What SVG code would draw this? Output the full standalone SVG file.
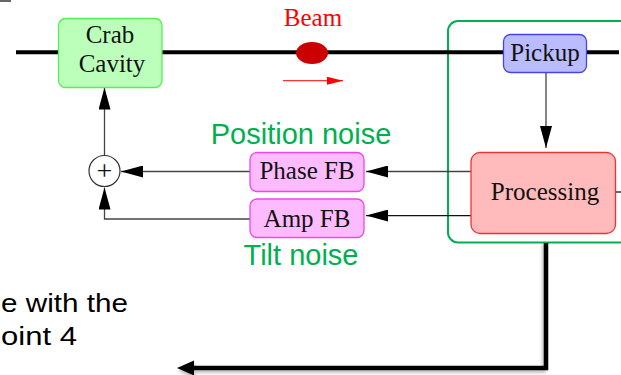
<svg xmlns="http://www.w3.org/2000/svg" width="621" height="375" viewBox="0 0 621 375">
  <style>
    .box { stroke-width: 1.3; }
    .serif { font-family: "Liberation Serif", "Times New Roman", serif; font-size: 25px; fill: #111; text-anchor: middle; }
    .noise { font-family: "Liberation Sans", Arial, sans-serif; font-size: 29px; fill: #00b050; text-anchor: middle; }
    .note { font-family: "Liberation Sans", Arial, sans-serif; font-size: 26.5px; fill: #000; }
    .wire { fill: none; stroke: #444; stroke-width: 1.3; }
  </style>
  <defs>
    <marker id="head" viewBox="0 0 22 12" refX="22" refY="6" markerWidth="22" markerHeight="12" markerUnits="userSpaceOnUse" orient="auto">
      <path d="M0,0 L22,6 L0,12 z" fill="#000"/>
    </marker>
    <marker id="redhead" viewBox="0 0 16 8" refX="16" refY="4" markerWidth="16" markerHeight="8" markerUnits="userSpaceOnUse" orient="auto">
      <path d="M0,0 L16,4 L0,8 z" fill="#ff0000"/>
    </marker>
    <filter id="shadow" x="-10%" y="-10%" width="120%" height="130%">
      <feGaussianBlur stdDeviation="1.5"/>
    </filter>
  </defs>

  <!-- corner mark -->
  <rect x="0" y="0" width="11" height="2" fill="#666"/>

  <!-- feedback loop enclosure -->
  <rect id="loop-frame" x="448" y="21" width="200" height="221.5" rx="10" fill="none" stroke="#00b050" stroke-width="2"/>

  <!-- beam pipe -->
  <line x1="16" y1="52.3" x2="619" y2="52.3" stroke="#000" stroke-width="4"/>

  <!-- bunch and direction of travel -->
  <g id="beam">
    <ellipse cx="312" cy="53" rx="16" ry="11" fill="#cc0000"/>
    <line x1="283" y1="80.7" x2="343" y2="80.7" stroke="#ff3333" stroke-width="1.2" marker-end="url(#redhead)"/>
    <text x="313" y="26" class="serif" style="fill:#ff0000">Beam</text>
  </g>

  <!-- connectors -->
  <g id="connectors">
    <line class="wire" x1="546" y1="72.5" x2="546" y2="148" marker-end="url(#head)"/>
    <line class="wire" x1="471" y1="171.5" x2="366" y2="171.5" marker-end="url(#head)"/>
    <line class="wire" x1="471" y1="215.6" x2="366" y2="215.6" style="stroke:#111" marker-end="url(#head)"/>
    <line class="wire" x1="250" y1="171.5" x2="121" y2="171.5" marker-end="url(#head)"/>
    <polyline class="wire" points="250,219 104.5,219 104.5,187.5" marker-end="url(#head)"/>
    <line class="wire" x1="104.5" y1="155.5" x2="104.5" y2="87.5" marker-end="url(#head)"/>
    <line class="wire" x1="615.5" y1="192" x2="621" y2="192" style="stroke:#111"/>
    <!-- thick return path with soft shadow -->
    <g filter="url(#shadow)" opacity="0.45">
      <polyline points="544,244 544,371 195,371" fill="none" stroke="#777" stroke-width="4"/>
      <path d="M195,363 L178,371 L195,379 z" fill="#777"/>
    </g>
    <polyline points="546,243 546,368 193,368" fill="none" stroke="#000" stroke-width="4.5"/>
    <path d="M194,360.5 L177,368 L194,375.5 z" fill="#000"/>
  </g>

  <!-- nodes -->
  <g id="crab-cavity">
    <rect class="box" x="58.5" y="18.5" width="103.5" height="69" rx="7" fill="#bbffbb" stroke="#55ee55"/>
    <text class="serif" x="110" y="42.7">Crab</text>
    <text class="serif" x="112" y="72">Cavity</text>
  </g>

  <g id="pickup">
    <rect class="box" x="503.5" y="34.5" width="83" height="38" rx="7" fill="#bbbbff" stroke="#4444ee"/>
    <text class="serif" x="545" y="61">Pickup</text>
  </g>

  <g id="processing">
    <rect class="box" x="471" y="152.5" width="144.5" height="81" rx="9" fill="#ffbbbb" stroke="#ee3333"/>
    <text class="serif" x="545" y="200">Processing</text>
  </g>

  <g id="phase-fb">
    <rect class="box" x="250" y="152.5" width="114" height="39" rx="7" fill="#ffbbff" stroke="#ee44ee"/>
    <text class="serif" x="307" y="179.3">Phase FB</text>
  </g>

  <g id="amp-fb">
    <rect class="box" x="250" y="199" width="114" height="38.5" rx="7" fill="#ffbbff" stroke="#ee44ee"/>
    <text class="serif" x="307" y="226.7">Amp FB</text>
  </g>

  <g id="sum">
    <circle cx="104.5" cy="171" r="15.5" fill="#fff" stroke="#333" stroke-width="1.2"/>
    <text class="serif" x="104.5" y="180" style="font-size:28px">+</text>
  </g>

  <!-- noise labels -->
  <text class="noise" x="301" y="144.3">Position noise</text>
  <text class="noise" x="301" y="265">Tilt noise</text>

  <!-- partial caption -->
  <text class="note" x="1" y="312.3" textLength="127" lengthAdjust="spacingAndGlyphs">e with the</text>
  <text class="note" x="1" y="345" textLength="76" lengthAdjust="spacingAndGlyphs">oint 4</text>
</svg>
